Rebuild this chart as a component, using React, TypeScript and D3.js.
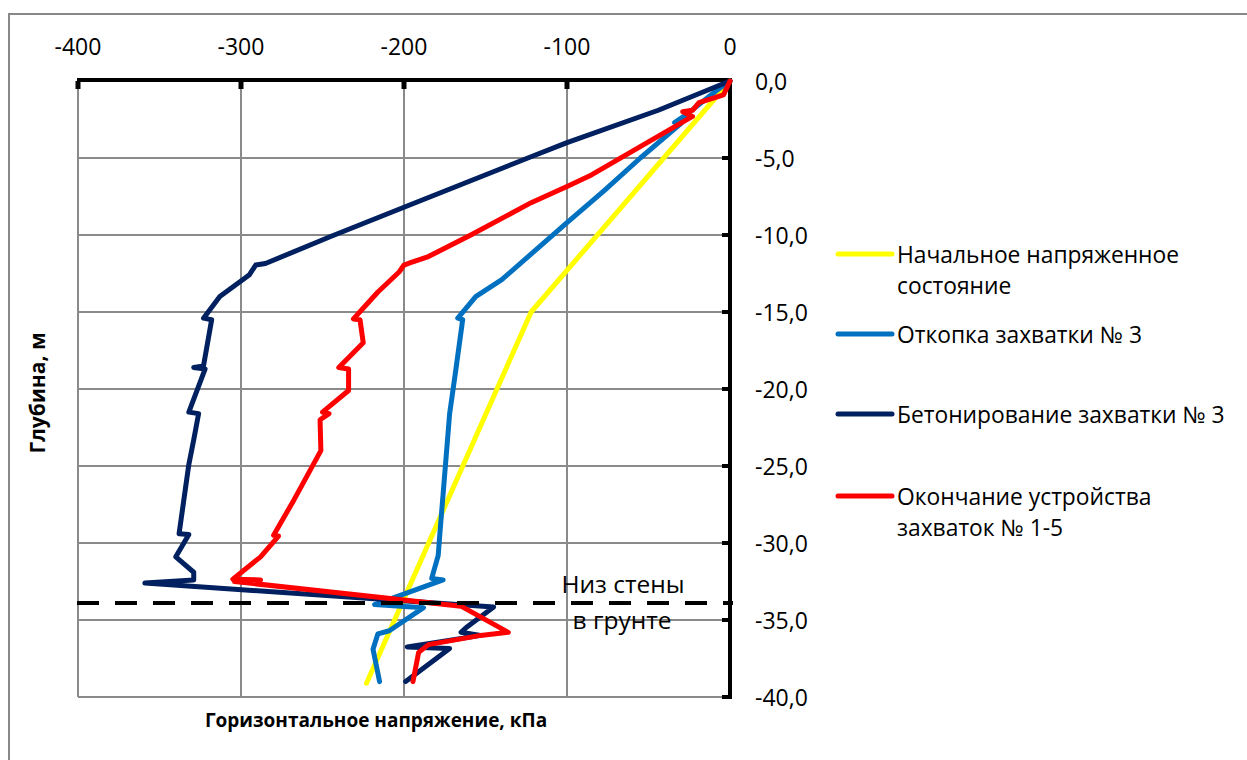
import React from "react";
import * as d3 from "d3";

type P = [number, number];

const xTicks = [-400, -300, -200, -100, 0];
const yTicks = [0, -5, -10, -15, -20, -25, -30, -35, -40];
const wallBottom = -33.9;

const seriesNames = [
  "Начальное напряженное\nсостояние",
  "Откопка захватки № 3",
  "Бетонирование захватки № 3",
  "Окончание устройства\nзахваток № 1-5",
];
const seriesColors = ["#FFFF00", "#0070C0", "#002060", "#FF0000"];

const initialState: P[] = [
  [0, 0], [-122, -15], [-223, -39.1],
];

const excavation3: P[] = [
  [0, 0], [-8, -0.6], [-27, -2.2], [-34, -2.7], [-30, -2.75], [-55, -5], [-77, -7.1],
  [-100, -9.2], [-140, -12.9], [-156, -14.0], [-167, -15.4], [-164, -15.5],
  [-168, -18.6], [-172, -21.6], [-178, -29.4], [-179, -30.8], [-183, -32.3],
  [-176, -32.4], [-218, -34.0], [-188, -34.2], [-209, -35.7], [-216, -35.9],
  [-219, -36.9], [-215, -39.0],
];

const concreting3: P[] = [
  [0, 0], [-44, -1.9], [-100, -4.0], [-124, -5.0], [-200, -8.2], [-245, -10.1],
  [-285, -11.85], [-291, -11.95], [-295, -12.6], [-313, -14.0], [-323, -15.4],
  [-318, -15.5], [-323, -18.5], [-329, -18.6], [-322, -18.7], [-332, -21.5],
  [-326, -21.6], [-329, -23.3], [-332, -24.9], [-338, -29.4], [-332, -29.45],
  [-340, -30.9], [-329, -31.9], [-329, -32.4], [-359, -32.6], [-145, -34.15],
  [-162, -35.5], [-165, -35.8], [-153, -36.0], [-198, -36.75], [-172, -36.85],
  [-199, -39.0],
];

const finalStage: P[] = [
  [0, 0], [-4, -0.9], [-19, -1.4], [-23, -1.9], [-29, -2.0], [-23, -2.3],
  [-85, -6.1], [-99, -6.8], [-122, -7.9], [-159, -10.0], [-185, -11.4],
  [-196, -11.8], [-200, -11.95], [-203, -12.4], [-216, -13.7], [-222, -14.4],
  [-231, -15.45], [-227, -15.5], [-225, -17.0], [-240, -18.6], [-234, -18.7],
  [-234, -20.1], [-250, -21.5], [-246, -21.6], [-251.5, -22.0], [-251, -24.0],
  [-267.5, -27.2], [-280, -29.5], [-277, -29.55], [-288, -30.9], [-305, -32.35],
  [-288, -32.4], [-304, -32.5], [-165, -34.1], [-136, -35.8], [-153, -36.0],
  [-185, -36.6], [-191, -37.1], [-194.5, -39.0],
];

const allSeries = [initialState, excavation3, concreting3, finalStage];

const FONT = "'Open Sans', 'DejaVu Sans', sans-serif";

export default function App() {
  const x = d3.scaleLinear().domain([-400, 0]).range([78, 730]);
  const y = d3.scaleLinear().domain([0, -40]).range([81, 697]);
  const line = d3
    .line<P>()
    .x((d) => x(d[0]))
    .y((d) => y(d[1]));

  const [x0, x1] = x.range();
  const [y0, y1] = y.range();
  const grid = "#8a8a8a";

  const legendY = [254, 334, 414, 496];

  return (
    <svg
      width={1247}
      height={760}
      style={{ position: "absolute", left: 0, top: 0, background: "#fff" }}
      fontFamily={FONT}
    >
      <rect x={9} y={14} width={1300} height={800} fill="#fff" stroke="#888" strokeWidth={2} />

      {/* grid */}
      {xTicks.slice(0, -1).map((t) => (
        <line key={"gx" + t} x1={x(t)} x2={x(t)} y1={y0} y2={y1} stroke={grid} strokeWidth={2} />
      ))}
      {yTicks.slice(1).map((t) => (
        <line key={"gy" + t} x1={x0} x2={x1} y1={y(t)} y2={y(t)} stroke={grid} strokeWidth={2} />
      ))}

      {/* axes */}
      <line x1={x0 - 1} x2={x1 + 2} y1={y0 - 1} y2={y0 - 1} stroke="#000" strokeWidth={4} />
      <line x1={x1} x2={x1} y1={y0 - 3} y2={y1 + 2} stroke="#000" strokeWidth={4} />
      {xTicks.slice(0, -1).map((t) => (
        <line key={"tx" + t} x1={x(t)} x2={x(t)} y1={y0} y2={y0 + 8} stroke="#000" strokeWidth={5} />
      ))}
      {yTicks.slice(1).map((t) => (
        <line key={"ty" + t} x1={x1 - 8} x2={x1} y1={y(t)} y2={y(t)} stroke="#000" strokeWidth={4} />
      ))}

      {/* tick labels */}
      {xTicks.map((t) => (
        <text key={"lx" + t} x={x(t)} y={55} textAnchor="middle" fontSize={23} fill="#000">
          {t}
        </text>
      ))}
      {yTicks.map((t) => (
        <text key={"ly" + t} x={755} y={y(t) + 8.5} fontSize={23} fill="#000">
          {t.toFixed(1).replace(".", ",")}
        </text>
      ))}

      {/* series */}
      {allSeries.map((s, i) => (
        <path
          key={"s" + i}
          d={line(s) || ""}
          fill="none"
          stroke={seriesColors[i]}
          strokeWidth={5}
          strokeLinejoin="round"
          strokeLinecap="round"
        />
      ))}

      {/* wall bottom */}
      <line
        x1={x0 - 1}
        x2={x1 + 3}
        y1={y(wallBottom)}
        y2={y(wallBottom)}
        stroke="#000"
        strokeWidth={4}
        strokeDasharray="22 16"
      />
      <text x={623} y={593} textAnchor="middle" fontSize={24.5} fill="#000">Низ стены</text>
      <text x={622} y={629} textAnchor="middle" fontSize={24.5} fill="#000">в грунте</text>

      {/* axis titles */}
      <text x={376} y={727} textAnchor="middle" fontSize={19} fontWeight="bold" fill="#000">
        Горизонтальное напряжение, кПа
      </text>
      <text
        transform={`translate(45, 393) rotate(-90)`}
        textAnchor="middle"
        fontSize={21}
        fontWeight="bold"
        fill="#000"
      >
        Глубина, м
      </text>

      {/* legend */}
      {seriesNames.map((name, i) => (
        <g key={"lg" + i}>
          <line
            x1={838}
            x2={892}
            y1={legendY[i]}
            y2={legendY[i]}
            stroke={seriesColors[i]}
            strokeWidth={5}
            strokeLinecap="round"
          />
          {name.split("\n").map((ln, j) => (
            <text key={j} x={897} y={legendY[i] + 8.5 + j * 31} fontSize={22.8} fill="#000">
              {ln}
            </text>
          ))}
        </g>
      ))}
    </svg>
  );
}
